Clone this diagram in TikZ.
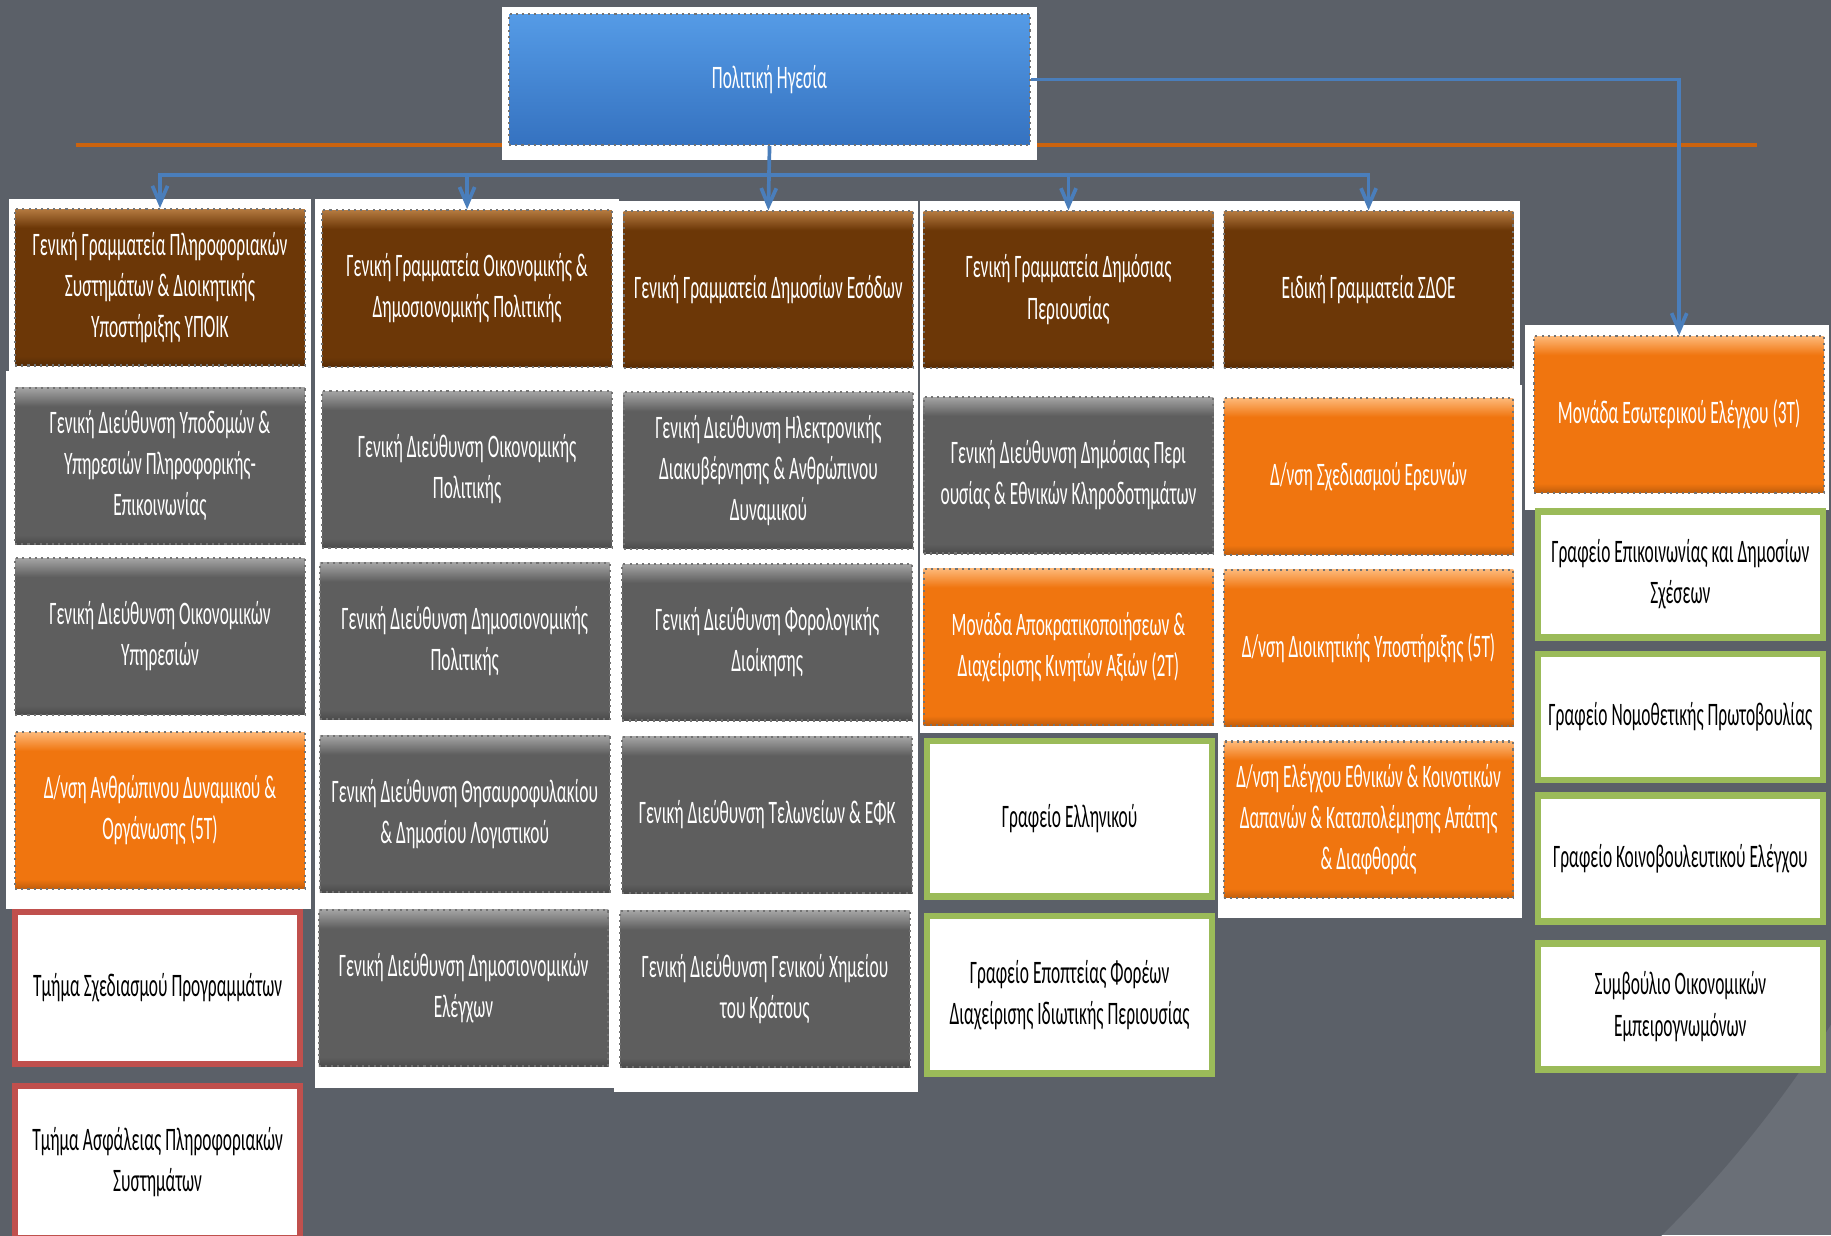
\documentclass[tikz,border=0pt]{standalone}
\usepackage{fontspec}
\setmainfont[FakeStretch=0.53]{Carlito}
\usetikzlibrary{arrows.meta}
\usetikzlibrary{calc}

\definecolor{fondo}{HTML}{5B6068}
\definecolor{fondoclaro}{HTML}{6A6F77}
\definecolor{marron}{HTML}{6C3707}
\definecolor{marronclaro}{HTML}{B47A40}
\definecolor{naranja}{HTML}{F0750F}
\definecolor{naranjaclaro}{HTML}{FDB878}
\definecolor{gris}{HTML}{5E5E5E}
\definecolor{grisclaro}{HTML}{A4A4A4}
\definecolor{azul}{HTML}{3572C0}
\definecolor{azulclaro}{HTML}{559BE6}
\definecolor{linea}{HTML}{4A7EBB}
\definecolor{verde}{HTML}{9BBB59}
\definecolor{rojo}{HTML}{C0504D}

% sombreado con bisel arriba (la caja va de 25bp a 75bp)
\pgfdeclareverticalshading{bismarron}{100bp}{color(0bp)=(marron!80!black); color(25bp)=(marron!80!black); color(28bp)=(marron); color(69bp)=(marron); color(75bp)=(marronclaro); color(100bp)=(marronclaro)}
\pgfdeclareverticalshading{bisgris}{100bp}{color(0bp)=(gris!80!black); color(25bp)=(gris!80!black); color(28bp)=(gris); color(69bp)=(gris); color(75bp)=(grisclaro); color(100bp)=(grisclaro)}
\pgfdeclareverticalshading{bisnaranja}{100bp}{color(0bp)=(naranja!80!black); color(25bp)=(naranja!80!black); color(28bp)=(naranja); color(69bp)=(naranja); color(75bp)=(naranjaclaro); color(100bp)=(naranjaclaro)}

\tikzset{
  caja/.style={minimum width=24.8mm, minimum height=13.4mm, inner sep=1pt,
    align=center, font=\fontsize{8}{10}\selectfont},
  sombra/.style={draw=black!55, densely dotted, line width=0.5pt},
  gg/.style={caja, shading=bismarron, text=white, sombra},
  gd/.style={caja, shading=bisgris, text=white, sombra},
  dn/.style={caja, shading=bisnaranja, text=white, sombra},
  grafeio/.style={caja, fill=white, text=black, draw=verde, line width=1.6pt, minimum height=10.8mm, minimum width=24.4mm},
  tmima/.style={caja, fill=white, text=black, draw=rojo, line width=1.6pt, minimum width=24.4mm, minimum height=13mm},
  marco/.style={fill=white},
  flecha/.style={draw=linea, line width=0.9pt, -{Straight Barb[length=1.5mm,width=1.3mm]}}
}

\begin{document}
\begin{tikzpicture}[x=0.1mm, y=-0.1mm]
\useasboundingbox (0,0) rectangle (1568,1058);
% fondo
\fill[fondoclaro] (0,0) rectangle (1568,1058);
\begin{scope}
\clip (0,0) rectangle (1568,1058);
\fill[fondo] (700,330) circle[radius=102.6mm];
\end{scope}
\draw[naranja!85!black, line width=1pt] (65,124) -- (1505,124);

% marcos blancos
\fill[marco] (430,6) rectangle (888,137);
\fill[marco] (8,170) rectangle (266,318);
\fill[marco] (5,318) rectangle (266,778);
\fill[marco] (270,170) rectangle (530,932);
\fill[marco] (526,172) rectangle (786,935);
\fill[marco] (788,172) rectangle (1302,330);
\fill[marco] (788,330) rectangle (1043,628);
\fill[marco] (1043,330) rectangle (1303,786);
\fill[marco] (1306,278) rectangle (1566,437);

% politica
\node[caja, minimum width=44.6mm, minimum height=11.2mm, top color=azulclaro, bottom color=azul, text=white, sombra] (pol) at (659,68) {Πολιτική Ηγεσία};

% fila de secretarias
\node[gg] (gg1) at (137,246) {Γενική Γραμματεία Πληροφοριακών\\Συστημάτων \& Διοικητικής\\Υποστήριξης ΥΠΟΙΚ};
\node[gg] (gg2) at (400,247) {Γενική Γραμματεία Οικονομικής \&\\Δημοσιονομικής Πολιτικής};
\node[gg] (gg3) at (658,248) {Γενική Γραμματεία Δημοσίων Εσόδων};
\node[gg] (gg4) at (915,248) {Γενική Γραμματεία Δημόσιας\\Περιουσίας};
\node[gg] (sdoe) at (1172,248) {Ειδική Γραμματεία ΣΔΟΕ};
\node[dn] (mee) at (1438,355) {Μονάδα Εσωτερικού Ελέγχου (3Τ)};

% columna 1
\node[gd] (gd11) at (137,399) {Γενική Διεύθυνση Υποδομών \&\\Υπηρεσιών Πληροφορικής-\\Επικοινωνίας};
\node[gd] (gd12) at (137,545) {Γενική Διεύθυνση Οικονομικών\\Υπηρεσιών};
\node[dn] (dn13) at (137,694) {Δ/νση Ανθρώπινου Δυναμικού \&\\Οργάνωσης (5Τ)};
\node[tmima] (tm14) at (135,846) {Τμήμα Σχεδιασμού Προγραμμάτων};
\node[tmima] (tm15) at (135,995) {Τμήμα Ασφάλειας Πληροφοριακών\\Συστημάτων};

% columna 2
\node[gd] (gd21) at (400,402) {Γενική Διεύθυνση Οικονομικής\\Πολιτικής};
\node[gd] (gd22) at (398,549) {Γενική Διεύθυνση Δημοσιονομικής\\Πολιτικής};
\node[gd] (gd23) at (398,697) {Γενική Διεύθυνση Θησαυροφυλακίου\\\& Δημοσίου Λογιστικού};
\node[gd] (gd24) at (397,846) {Γενική Διεύθυνση Δημοσιονομικών\\Ελέγχων};

% columna 3
\node[gd] (gd31) at (658,403) {Γενική Διεύθυνση Ηλεκτρονικής\\Διακυβέρνησης \& Ανθρώπινου\\Δυναμικού};
\node[gd] (gd32) at (657,550) {Γενική Διεύθυνση Φορολογικής\\Διοίκησης};
\node[gd] (gd33) at (657,698) {Γενική Διεύθυνση Τελωνείων \& ΕΦΚ};
\node[gd] (gd34) at (655,847) {Γενική Διεύθυνση Γενικού Χημείου\\του Κράτους};

% columna 4
\node[gd] (gd41) at (915,407) {Γενική Διεύθυνση Δημόσιας Περι\\ουσίας \& Εθνικών Κληροδοτημάτων};
\node[dn] (mon42) at (915,554) {Μονάδα Αποκρατικοποιήσεων \&\\Διαχείρισης Κινητών Αξιών (2Τ)};
\node[grafeio, minimum height=13.3mm] (gr43) at (916,701) {Γραφείο Ελληνικού};
\node[grafeio, minimum height=13.5mm] (gr44) at (916,852) {Γραφείο Εποπτείας Φορέων\\Διαχείρισης Ιδιωτικής Περιουσίας};

% columna 5
\node[dn] (dn51) at (1172,408) {Δ/νση Σχεδιασμού Ερευνών};
\node[dn] (dn52) at (1172,555) {Δ/νση Διοικητικής Υποστήριξης (5Τ)};
\node[dn] (dn53) at (1172,702) {Δ/νση Ελέγχου Εθνικών \& Κοινοτικών\\Δαπανών \& Καταπολέμησης Απάτης\\\& Διαφθοράς};

% columna 6
\node[grafeio] (gr61) at (1439,492) {Γραφείο Επικοινωνίας και Δημοσίων\\Σχέσεων};
\node[grafeio] (gr62) at (1439,614) {Γραφείο Νομοθετικής Πρωτοβουλίας};
\node[grafeio] (gr63) at (1439,735) {Γραφείο Κοινοβουλευτικού Ελέγχου};
\node[grafeio] (gr64) at (1439,862) {Συμβούλιο Οικονομικών\\Εμπειρογνωμόνων};

% conexiones
\coordinate (bus) at (659,150);
\draw[flecha] (pol.south) -- (gg3.north);
\foreach \g in {gg1,gg2,gg4,sdoe}
  \draw[flecha] (bus) -| (\g.north);
\draw[flecha] (pol.east) -| (mee.north);
\end{tikzpicture}
\end{document}
